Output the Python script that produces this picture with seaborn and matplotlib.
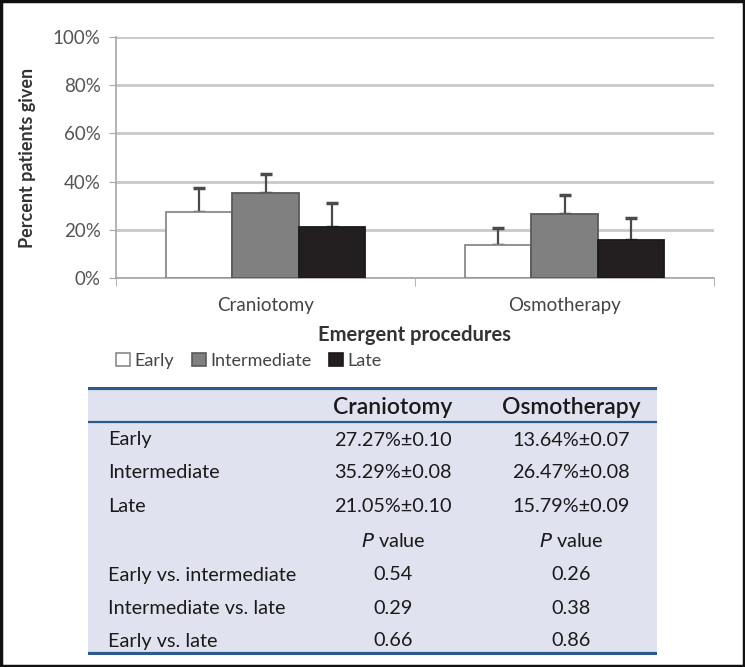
import numpy as np
import pandas as pd
import matplotlib
matplotlib.use("Agg")
import matplotlib.pyplot as plt
from matplotlib.ticker import PercentFormatter
from matplotlib.patches import Rectangle, Patch
import seaborn as sns

# chart data
procedures = ["Craniotomy", "Osmotherapy"]
timings = ["Early", "Intermediate", "Late"]
craniotomy_pct = [27.27, 35.29, 21.05]
osmotherapy_pct = [13.64, 26.47, 15.79]
craniotomy_sd = [0.10, 0.08, 0.10]
osmotherapy_sd = [0.07, 0.08, 0.09]

# table text
comparisons = ["Early vs. intermediate", "Intermediate vs. late", "Early vs. late"]
craniotomy_p = ["0.54", "0.29", "0.66"]
osmotherapy_p = ["0.26", "0.38", "0.86"]

sns.set_style("white")
plt.rcParams["font.family"] = ["Lato", "DejaVu Sans"]

df = pd.DataFrame({
    "procedure": [p for p in procedures for _ in timings],
    "timing": timings * len(procedures),
    "value": [v / 100 for v in craniotomy_pct + osmotherapy_pct],
    "sd": craniotomy_sd + osmotherapy_sd,
})

fig = plt.figure(figsize=(7.45, 6.67), dpi=100)
ax = fig.add_axes([116 / 745, 1 - 278 / 667, 598 / 745, 241 / 667])

palette = {"Early": "#ffffff", "Intermediate": "#808080", "Late": "#231f20"}
edges = {"Early": "#8a8a8a", "Intermediate": "#5a5a5a", "Late": "#1a1a1a"}
sns.barplot(data=df, x="procedure", y="value", hue="timing", order=procedures,
            hue_order=timings, palette=palette, width=0.667, errorbar=None,
            legend=False, ax=ax, zorder=3, saturation=1)

for timing, cont in zip(timings, ax.containers):
    sub = df[df["timing"] == timing].set_index("procedure").loc[procedures]
    for bar, (_, row) in zip(cont, sub.iterrows()):
        bar.set_edgecolor(edges[timing])
        bar.set_linewidth(1.3)
        xc = bar.get_x() + bar.get_width() / 2
        ax.errorbar(xc, row["value"], yerr=[[0], [row["sd"]]], fmt="none",
                    ecolor="#4a4a4a", elinewidth=1.6, capsize=4, capthick=2.5,
                    zorder=2)

ax.set_ylim(0, 1)
ax.set_xlim(-0.5, 1.5)
ax.set_yticks(np.arange(0, 1.01, 0.2))
ax.yaxis.set_major_formatter(PercentFormatter(1.0, decimals=0))
ax.yaxis.grid(True, color="#c9c9c9", linewidth=2, zorder=0)
ax.set_axisbelow(True)
for s in ["top", "right"]:
    ax.spines[s].set_visible(False)
for s in ["left", "bottom"]:
    ax.spines[s].set_color("#a6a6a6")
    ax.spines[s].set_linewidth(1.2)
ax.tick_params(axis="y", left=True, length=5, color="#a6a6a6", labelsize=13.5,
               labelcolor="#555555", pad=6)
ax.set_xticks([-0.5, 0.5, 1.5], minor=True)
ax.tick_params(axis="x", which="minor", bottom=True, length=6, color="#a6a6a6")
ax.tick_params(axis="x", which="major", bottom=False, labelsize=13.5,
               labelcolor="#444444", pad=10)
ax.set_xlabel("Emergent procedures", fontsize=14.5, fontweight="bold",
              color="#333333", labelpad=8)
ax.set_ylabel("Percent patients given", fontsize=13, fontweight="bold",
              color="#333333", labelpad=12)

handles = [Patch(facecolor=palette[t], edgecolor=edges[t], linewidth=1.2, label=t)
           for t in timings]
fig.legend(handles=handles, loc="center left", ncol=3, frameon=False,
           bbox_to_anchor=(100 / 745, 1 - 361 / 667), fontsize=13,
           handlelength=0.75, handleheight=0.75, handletextpad=0.25,
           columnspacing=1.0, labelcolor="#444444")

# table
tab = fig.add_axes([88 / 745, 1 - 655 / 667, 569 / 745, 268 / 667])
tab.set_xlim(88, 657)
tab.set_ylim(655, 387)
tab.set_facecolor("#e0e2ef")
for s in tab.spines.values():
    s.set_visible(False)
tab.set_xticks([])
tab.set_yticks([])
line_col = "#2a5a8e"
tab.axhline(388, color=line_col, linewidth=3)
tab.axhline(422, color=line_col, linewidth=1.6)
tab.axhline(654, color=line_col, linewidth=3)

txt = dict(va="center", fontsize=14.3, color="#1a1a1a")
col1, col2, lab_x = 393, 571, 108
tab.text(col1, 407, "Craniotomy", ha="center", va="center", fontsize=16.5,
         fontweight="semibold", color="#1a1a1a")
tab.text(col2, 407, "Osmotherapy", ha="center", va="center", fontsize=16.5,
         fontweight="semibold", color="#1a1a1a")

row_y = [440, 473, 507]
for i, t in enumerate(timings):
    y = row_y[i]
    tab.text(lab_x, y, t, ha="left", **txt)
    tab.text(col1, y, f"{craniotomy_pct[i]:.2f}%±{craniotomy_sd[i]:.2f}", ha="center", **txt)
    tab.text(col2, y, f"{osmotherapy_pct[i]:.2f}%±{osmotherapy_sd[i]:.2f}", ha="center", **txt)

for xc in [col1, col2]:
    tab.text(xc, 541, r"$\it{P}$ value", ha="center", **txt)

p_y = [575, 608, 641]
for i, c in enumerate(comparisons):
    y = p_y[i]
    tab.text(lab_x, y, c, ha="left", **txt)
    tab.text(col1, y, craniotomy_p[i], ha="center", **txt)
    tab.text(col2, y, osmotherapy_p[i], ha="center", **txt)

# outer frame
fig.patches.append(Rectangle((0.002, 0.002), 0.996, 0.996, transform=fig.transFigure,
                             fill=False, edgecolor="#111111", linewidth=2.5))

fig.savefig("out.png", dpi=100)
